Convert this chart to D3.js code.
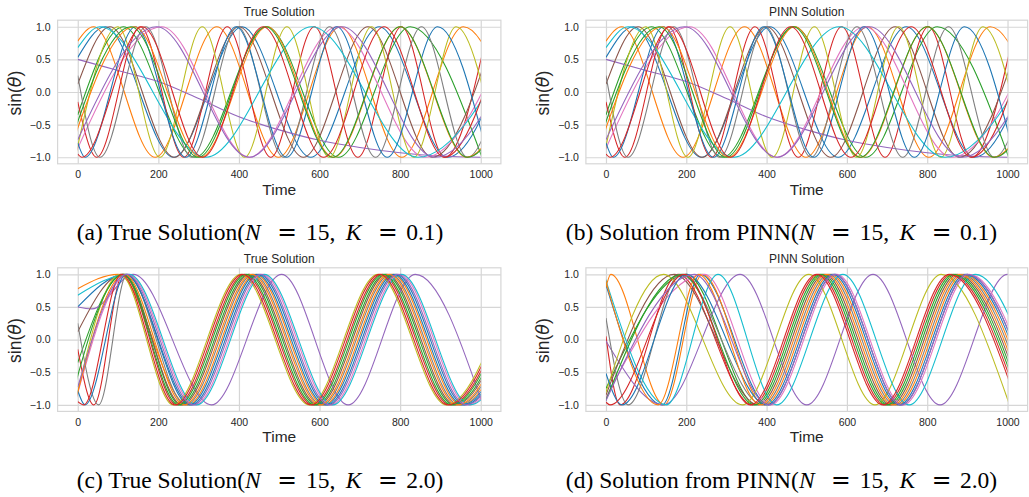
<!DOCTYPE html>
<html>
<head>
<meta charset="utf-8">
<script src="https://cdn.jsdelivr.net/npm/d3@7"></script>
<style>
  body { margin: 0; background: #fff; }
</style>
</head>
<body>
<svg width="1029" height="497"></svg>
<script>
// ticks shared by every panel
const timeTicks = [0, 200, 400, 600, 800, 1000];
const sinTicks = [-1, -0.5, 0, 0.5, 1];

// matplotlib tab10 cycle, 15 oscillators
const colors = ["#1f77b4", "#ff7f0e", "#2ca02c", "#d62728", "#9467bd",
  "#8c564b", "#e377c2", "#7f7f7f", "#bcbd22", "#17becf",
  "#1f77b4", "#ff7f0e", "#2ca02c", "#d62728", "#9467bd"];

const titles = ["True Solution", "PINN Solution", "True Solution", "PINN Solution"];
const captionHeads = ["(a) True Solution(", "(b) Solution from PINN(", "(c) True Solution(", "(d) Solution from PINN("];
const captionK = ["0.1", "0.1", "2.0", "2.0"];

// each oscillator: [time, sin(theta)] at its start, its peaks and troughs
const trueLowK = [
  [[0, 0.53], [68, 1], [238, -1], [408, 1], [578, -1], [748, 1], [918, -1], [1088, 1]],
  [[0, 0.78], [39, 1], [192, -1], [345, 1], [498, -1], [651, 1], [804, -1], [957, 1], [1110, -1]],
  [[0, -0.35], [113, 1], [291, -1], [469, 1], [647, -1], [825, 1], [1003, -1]],
  [[0, -0.15], [47, -1], [155, 1], [263, -1], [371, 1], [479, -1], [587, 1], [695, -1], [803, 1], [911, -1], [1019, 1]],
  [[0, 0.5], [100, 0.33], [200, 0.16], [300, -0.1], [400, -0.38], [500, -0.58], [600, -0.74], [700, -0.85], [800, -0.93], [900, -0.98], [1000, -1]],
  [[0, 0.12], [80, 1], [240, -1], [400, 1], [560, -1], [720, 1], [880, -1], [1040, 1]],
  [[-10, -1], [208, 1], [426, -1], [644, 1], [862, -1], [1080, 1]],
  [[0, 0.25], [55, -1], [169, 1], [283, -1], [397, 1], [511, -1], [625, 1], [739, -1], [853, 1], [967, -1], [1081, 1]],
  [[-6, -1], [99, 1], [204, -1], [309, 1], [414, -1], [519, 1], [624, -1], [729, 1], [834, -1], [939, 1], [1044, -1]],
  [[0, 0.68], [55, 1], [318, -1], [581, 1], [844, -1], [1107, 1]],
  [[0, -0.78], [18, -1], [143, 1], [268, -1], [393, 1], [518, -1], [643, 1], [768, -1], [893, 1], [1018, -1]],
  [[-25, -1], [140, 1], [305, -1], [470, 1], [635, -1], [800, 1], [965, -1], [1130, 1]],
  [[-30, -1], [132, 1], [299, -1], [466, 1], [633, -1], [800, 1], [967, -1], [1134, 1]],
  [[0, -0.95], [10, -1], [160, 1], [310, -1], [460, 1], [610, -1], [760, 1], [910, -1], [1060, 1]],
  [[0, -0.73], [196, 1], [426, -1], [656, 1], [886, -1], [1116, 1]]
];

// at K = 0.1 the PINN curves sit on top of the true ones
const pinnLowK = trueLowK;

const trueHighK = [
  [[0, 0.5], [118, 1], [282, -1], [450, 1], [620, -1], [790, 1], [960, -1], [1130, 1]],
  [[0, 0.78], [100, 1], [273, -1], [441, 1], [611, -1], [781, 1], [951, -1], [1121, 1]],
  [[0, -0.35], [114, 1], [255, -1], [423, 1], [593, -1], [763, 1], [933, -1], [1103, 1]],
  [[0, -0.15], [40, -1], [112, 1], [246, -1], [414, 1], [584, -1], [754, 1], [924, -1], [1094, 1]],
  [[0, 0.5], [35, 0.47], [138, 1], [332, -1], [506, 1], [671, -1], [838, 1], [1005, -1]],
  [[0, 0.12], [110, 1], [259, -1], [427, 1], [597, -1], [767, 1], [937, -1], [1107, 1]],
  [[-8, -1], [125, 1], [291, -1], [459, 1], [629, -1], [799, 1], [969, -1], [1139, 1]],
  [[0, 0.25], [52, -1], [122, 1], [268, -1], [436, 1], [606, -1], [776, 1], [946, -1], [1116, 1]],
  [[-8, -1], [105, 1], [237, -1], [405, 1], [575, -1], [745, 1], [915, -1], [1085, 1]],
  [[0, 0.68], [128, 1], [295, -1], [463, 1], [633, -1], [803, 1], [973, -1], [1143, 1]],
  [[0, -0.78], [18, -1], [120, 1], [277, -1], [445, 1], [615, -1], [785, 1], [955, -1], [1125, 1]],
  [[-8, -1], [116, 1], [264, -1], [432, 1], [602, -1], [772, 1], [942, -1], [1112, 1]],
  [[-20, -1], [112, 1], [250, -1], [418, 1], [588, -1], [758, 1], [928, -1], [1098, 1]],
  [[0, -0.95], [15, -1], [108, 1], [241, -1], [409, 1], [579, -1], [749, 1], [919, -1], [1089, 1]],
  [[0, -0.73], [122, 1], [286, -1], [454, 1], [624, -1], [794, 1], [964, -1], [1134, 1]]
];

const pinnHighK = [
  [[-8, 1], [140, -1], [235, 1], [405, -1], [570, 1], [735, -1], [900, 1], [1070, -1]],
  [[0, 0.8], [12, 1], [145, -1], [240, 1], [395, -1], [560, 1], [725, -1], [890, 1], [1060, -1]],
  [[0, -0.75], [200, 1], [375, -1], [540, 1], [705, -1], [870, 1], [1040, -1]],
  [[0, 0.05], [35, -1], [180, 1], [365, -1], [530, 1], [695, -1], [860, 1], [1030, -1]],
  [[0, -0.02], [143, -1], [334, 1], [500, -1], [665, 1], [832, -1], [1000, 1], [1165, -1]],
  [[0, -0.85], [170, 1], [380, -1], [545, 1], [710, -1], [875, 1], [1045, -1]],
  [[-10, -1], [245, 1], [410, -1], [575, 1], [740, -1], [905, 1], [1075, -1]],
  [[0, 0.33], [55, -1], [185, 1], [390, -1], [555, 1], [720, -1], [885, 1], [1055, -1]],
  [[-10, -1], [143, 1], [340, -1], [505, 1], [670, -1], [835, 1], [1005, -1]],
  [[-5, 1], [150, -1], [279, 1], [425, -1], [590, 1], [755, -1], [920, 1], [1085, -1]],
  [[0, -0.52], [40, -1], [200, 1], [400, -1], [565, 1], [730, -1], [895, 1], [1065, -1]],
  [[-5, 1], [130, -1], [230, 1], [385, -1], [550, 1], [715, -1], [880, 1], [1050, -1]],
  [[-5, -1], [190, 1], [370, -1], [535, 1], [700, -1], [865, 1], [1035, -1]],
  [[0, -0.96], [10, -1], [195, 1], [360, -1], [525, 1], [690, -1], [855, 1], [1025, -1]],
  [[-5, -1], [220, 1], [405, -1], [570, 1], [735, -1], [900, 1], [1070, -1]]
];

const svg = d3.select("svg");
const ink = "#262626";
const gridColor = "#d6d6d6";
const sans = "'Liberation Sans', Arial, sans-serif";
const serif = "'Liberation Serif', 'Times New Roman', serif";

// axes boxes (pixel edges of each matplotlib Axes)
const cols = [{ x0: 57.6, x1: 500.9, cap: 260 }, { x0: 585.9, x1: 1027.6, cap: 781.5 }];
const rows = [{ y0: 20.2, y1: 163.8, cap: 240 }, { y0: 267.8, y1: 411.4, cap: 488 }];

const panels = [
  { data: trueLowK, col: 0, row: 0 },
  { data: pinnLowK, col: 1, row: 0 },
  { data: trueHighK, col: 0, row: 1 },
  { data: pinnHighK, col: 1, row: 1 }
];

panels.forEach((p, i) => {
  const c = cols[p.col], r = rows[p.row];
  const x = d3.scaleLinear().domain([-50, 1050]).range([c.x0, c.x1]);
  const y = d3.scaleLinear().domain([-1.1, 1.1]).range([r.y1, r.y0]);
  const g = svg.append("g");

  // grid via axes
  const xAxis = g.append("g")
    .attr("transform", "translate(0," + r.y1 + ")")
    .call(d3.axisBottom(x).tickValues(timeTicks).tickSize(-(r.y1 - r.y0)).tickPadding(7).tickFormat(d3.format("d")));
  const yAxis = g.append("g")
    .attr("transform", "translate(" + c.x0 + ",0)")
    .call(d3.axisLeft(y).tickValues(sinTicks).tickSize(-(c.x1 - c.x0)).tickPadding(7).tickFormat(d3.format(".1f")));
  [xAxis, yAxis].forEach(a => {
    a.select(".domain").remove();
    a.selectAll("line").attr("stroke", gridColor).attr("stroke-width", 1.2);
    a.selectAll("text").attr("fill", ink).style("font-family", sans).style("font-size", "10.5px");
  });

  // clip the curves to the simulated time span
  g.append("clipPath").attr("id", "clip" + i)
    .append("rect")
    .attr("x", x(0)).attr("y", r.y0)
    .attr("width", x(1000) - x(0)).attr("height", r.y1 - r.y0);

  const line = d3.line()
    .x(d => x(d[0]))
    .y(d => y(d[1]))
    .curve(d3.curveMonotoneX);

  g.append("g").attr("clip-path", "url(#clip" + i + ")")
    .selectAll("path")
    .data(p.data)
    .join("path")
    .attr("d", line)
    .attr("fill", "none")
    .attr("stroke", (d, j) => colors[j])
    .attr("stroke-width", 1.1);

  // frame
  g.append("rect")
    .attr("x", c.x0).attr("y", r.y0)
    .attr("width", c.x1 - c.x0).attr("height", r.y1 - r.y0)
    .attr("fill", "none").attr("stroke", gridColor).attr("stroke-width", 1.2);

  // title
  g.append("text")
    .attr("x", (c.x0 + c.x1) / 2).attr("y", r.y0 - 4.5)
    .attr("text-anchor", "middle")
    .attr("fill", ink)
    .style("font-family", sans).style("font-size", "12px")
    .text(titles[i]);

  // axis labels
  g.append("text")
    .attr("x", (c.x0 + c.x1) / 2).attr("y", r.y1 + 31)
    .attr("text-anchor", "middle")
    .attr("fill", ink)
    .style("font-family", sans).style("font-size", "15.5px")
    .text("Time");

  const yl = g.append("text")
    .attr("transform", "translate(" + (c.x0 - 36.5) + "," + ((r.y0 + r.y1) / 2 + 1) + ") rotate(-90)")
    .attr("text-anchor", "middle")
    .attr("fill", ink)
    .style("font-family", sans).style("font-size", "17.5px");
  yl.append("tspan").text("sin(");
  yl.append("tspan").style("font-family", "'DejaVu Sans', sans-serif").style("font-style", "italic").text("θ");
  yl.append("tspan").text(")");

  // caption under the subfigure, math spaced like LaTeX
  const cap = svg.append("text")
    .attr("x", c.cap).attr("y", r.cap)
    .attr("text-anchor", "middle")
    .attr("fill", "#000")
    .style("font-family", serif).style("font-size", "23.5px");
  cap.append("tspan").text(captionHeads[i]);
  cap.append("tspan").style("font-style", "italic").text("N");
  cap.append("tspan").attr("dx", "0.7em").style("font-family", "'DejaVu Serif', serif").text("=");
  cap.append("tspan").attr("dx", "0.38em").text("15,");
  cap.append("tspan").attr("dx", "0.45em").style("font-style", "italic").text("K");
  cap.append("tspan").attr("dx", "0.7em").style("font-family", "'DejaVu Serif', serif").text("=");
  cap.append("tspan").attr("dx", "0.36em").text(captionK[i] + ")");
});
</script>
</body>
</html>
